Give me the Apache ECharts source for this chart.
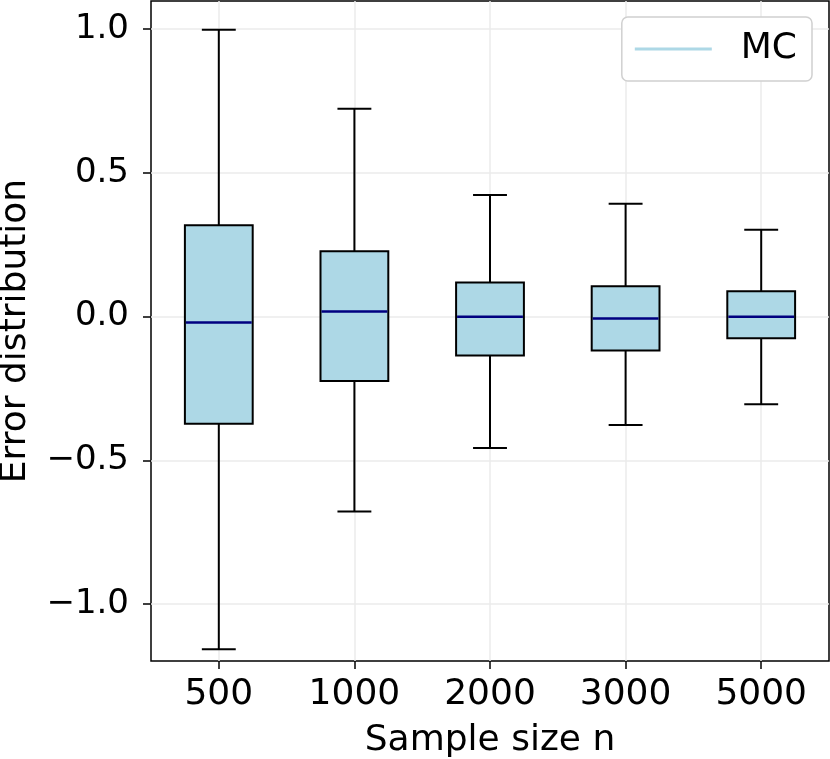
<!DOCTYPE html>
<html>
<head>
<meta charset="utf-8">
<script src="https://cdn.jsdelivr.net/npm/echarts@6/dist/echarts.min.js"></script>
<style>
html,body{margin:0;padding:0;background:#fff;}
#chart{width:830px;height:759px;}
</style>
</head>
<body>
<div id="chart"></div>
<script>
var categories = ['500', '1000', '2000', '3000', '5000'];
var whiskerLow = [-1.157, -0.678, -0.457, -0.377, -0.305];
var q1Values = [-0.373, -0.224, -0.136, -0.118, -0.076];
var medianValues = [-0.021, 0.017, -0.001, -0.007, -0.001];
var q3Values = [0.317, 0.227, 0.118, 0.105, 0.088];
var whiskerHigh = [0.997, 0.722, 0.422, 0.392, 0.302];
var yTickValues = [-1.0, -0.5, 0.0, 0.5, 1.0];
var xTickValues = [0, 1, 2, 3, 4];

var boxData = categories.map(function (c, i) {
  return [i, whiskerLow[i], q1Values[i], medianValues[i], q3Values[i], whiskerHigh[i]];
});

var FONT = 'DejaVu Sans';
var chart = echarts.init(document.getElementById('chart'), null, {renderer: 'canvas'});

function fmtY(v) {
  var s = Math.abs(v).toFixed(1);
  return v < -1e-9 ? '\u2212' + s : s;
}

var option = {
  animation: false,
  backgroundColor: '#ffffff',
  grid: {
    left: 151, right: 1, top: 1, bottom: 98,
    containLabel: false,
    outerBoundsMode: 'none',
    show: true, borderColor: '#000000', borderWidth: 1.5, backgroundColor: 'transparent'
  },
  legend: {
    show: true,
    right: 18, top: 17,
    orient: 'vertical',
    padding: [14, 15, 14, 13],
    backgroundColor: '#ffffff',
    borderColor: '#d0d0d0', borderWidth: 1.5, borderRadius: 6,
    itemWidth: 77, itemHeight: 3,
    data: [{name: 'MC', icon: 'rect', itemStyle: {color: '#add8e6'}}],
    textStyle: {fontFamily: FONT, fontSize: 36, color: '#000', padding: [0, 0, 0, 24]}
  },
  xAxis: {
    type: 'value',
    min: -0.5, max: 4.5,
    name: 'Sample size n',
    nameLocation: 'middle',
    nameGap: 62,
    nameTextStyle: {fontFamily: FONT, fontSize: 36, color: '#000'},
    axisLine: {show: false, onZero: false},
    axisTick: {show: true, customValues: xTickValues, length: 8, lineStyle: {color: '#000', width: 1.5}},
    axisLabel: {
      customValues: xTickValues, margin: 16,
      fontFamily: FONT, fontSize: 36, color: '#000',
      formatter: function (v) { return categories[Math.round(v)]; }
    },
    splitLine: {show: true, lineStyle: {color: '#ebebeb', width: 1.5}}
  },
  yAxis: {
    type: 'value',
    min: -1.198, max: 1.097,
    name: 'Error distribution',
    nameLocation: 'middle',
    nameGap: 117,
    nameRotate: 90,
    nameTextStyle: {fontFamily: FONT, fontSize: 36, color: '#000'},
    axisLine: {show: false, onZero: false},
    axisTick: {show: true, customValues: yTickValues, length: 8, lineStyle: {color: '#000', width: 1.5}},
    axisLabel: {
      customValues: yTickValues, margin: 22,
      fontFamily: FONT, fontSize: 34, color: '#000',
      formatter: fmtY
    },
    splitLine: {show: true, lineStyle: {color: '#ebebeb', width: 1.5}}
  },
  series: [{
    name: 'MC',
    type: 'custom',
    data: boxData,
    encode: {x: 0, y: [1, 2, 3, 4, 5]},
    renderItem: function (params, api) {
      var x = api.value(0);
      var lo = api.coord([x, api.value(1)]);
      var q1 = api.coord([x, api.value(2)]);
      var md = api.coord([x, api.value(3)]);
      var q3 = api.coord([x, api.value(4)]);
      var hi = api.coord([x, api.value(5)]);
      var unit = api.size([1, 0])[0];
      var bw = unit * 0.5, cw = unit * 0.25;
      var cx = lo[0];
      var ls = {stroke: '#000', lineWidth: 2, fill: null};
      return {
        type: 'group',
        children: [
          {type: 'line', shape: {x1: cx, y1: hi[1], x2: cx, y2: q3[1]}, style: ls},
          {type: 'line', shape: {x1: cx, y1: q1[1], x2: cx, y2: lo[1]}, style: ls},
          {type: 'line', shape: {x1: cx - cw / 2, y1: hi[1], x2: cx + cw / 2, y2: hi[1]}, style: ls},
          {type: 'line', shape: {x1: cx - cw / 2, y1: lo[1], x2: cx + cw / 2, y2: lo[1]}, style: ls},
          {type: 'rect', shape: {x: cx - bw / 2, y: q3[1], width: bw, height: q1[1] - q3[1]},
            style: {fill: '#add8e6', stroke: '#000', lineWidth: 2}},
          {type: 'line', shape: {x1: cx - bw / 2 + 1, y1: md[1], x2: cx + bw / 2 - 1, y2: md[1]},
            style: {stroke: '#000080', lineWidth: 2.5}}
        ]
      };
    }
  }]
};
chart.setOption(option);
</script>
</body>
</html>
